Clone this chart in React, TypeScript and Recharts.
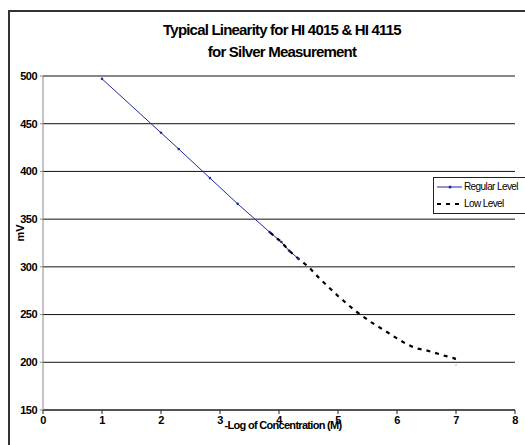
import { LineChart, Line, XAxis, YAxis, CartesianGrid } from "recharts";

// values
const regularX = [1, 2, 2.3, 2.83, 3.3, 3.84, 4.04, 4.17, 4.33];
const regularY = [497, 440.5, 423.5, 393, 366, 336.5, 326, 317, 308.5];

const lowX = [3.85, 4.04, 4.17, 4.33, 4.5, 4.7, 5.0, 5.28, 5.56, 5.85, 6.0, 6.15, 6.3, 6.5, 6.8, 6.98, 7.0];
const lowY = [336, 326, 317, 308.5, 300, 287, 269.5, 254.5, 242, 231, 225, 219.5, 215, 212.5, 207, 204, 197];

const xTicks = [0, 1, 2, 3, 4, 5, 6, 7, 8];
const yTicks = [150, 200, 250, 300, 350, 400, 450, 500];

const regularData = regularX.map((x, i) => ({ x, mv: regularY[i] }));
const lowData = lowX.map((x, i) => ({ x, mv: lowY[i] }));

const font = "'Liberation Sans', Arial, sans-serif";
const tickStyle = { fontSize: 11, fontWeight: 700, fill: "#000", fontFamily: font, letterSpacing: -0.5 };

function LegendBox() {
  return (
    <div
      style={{
        position: "absolute",
        left: 433,
        top: 177,
        width: 94,
        height: 37,
        border: "1px solid #222",
        background: "#fff",
        fontFamily: font,
        fontSize: 10,
        letterSpacing: -0.6,
        color: "#000",
        boxSizing: "border-box",
      }}
    >
      <div style={{ display: "flex", alignItems: "center", height: 17 }}>
        <svg width={30} height={10}>
          <line x1={3} y1={5} x2={28} y2={5} stroke="#1f2a9c" strokeWidth={1} />
          <circle cx={16} cy={5} r={1.5} fill="#1f2a9c" />
        </svg>
        <span>Regular Level</span>
      </div>
      <div style={{ display: "flex", alignItems: "center", height: 17 }}>
        <svg width={30} height={10}>
          <line x1={3} y1={5} x2={29} y2={5} stroke="#000" strokeWidth={2.2} strokeDasharray="4 5" />
        </svg>
        <span>Low Level</span>
      </div>
    </div>
  );
}

export default function App() {
  return (
    <div style={{ position: "absolute", left: 0, top: 0, width: 525, height: 445, overflow: "hidden", background: "#fff" }}>
      <div
        style={{
          position: "absolute",
          left: 8,
          top: 10,
          width: 540,
          height: 460,
          borderLeft: "2px solid #333",
          borderTop: "2px solid #333",
        }}
      />
      <div
        style={{
          position: "absolute",
          left: 0,
          top: 19,
          width: 564,
          textAlign: "center",
          fontFamily: font,
          fontWeight: 700,
          fontSize: 15,
          letterSpacing: -0.8,
          lineHeight: "22px",
          color: "#000",
        }}
      >
        Typical Linearity for HI 4015 &amp; HI 4115
        <br />
        for Silver Measurement
      </div>
      <LineChart width={525} height={445} margin={{ top: 76, right: 10, left: 0, bottom: 5 }} style={{ position: "absolute", left: 0, top: 0 }}>
        <CartesianGrid vertical={false} stroke="#111" strokeWidth={1} />
        <XAxis
          type="number"
          dataKey="x"
          domain={[0, 8]}
          ticks={xTicks}
          allowDuplicatedCategory={false}
          height={30}
          stroke="#222"
          tickSize={4}
          tickMargin={2}
          tick={tickStyle}
          interval={0}
        />
        <YAxis
          type="number"
          dataKey="mv"
          domain={[150, 500]}
          ticks={yTicks}
          width={43}
          stroke="#888"
          tickSize={3}
          tickMargin={3}
          tick={tickStyle}
          interval={0}
        />
        <Line
          data={regularData}
          dataKey="mv"
          name="Regular Level"
          stroke="#1f2a9c"
          strokeWidth={1}
          dot={{ r: 1.3, fill: "#1f2a9c", stroke: "none" }}
          isAnimationActive={false}
        />
        <Line
          data={lowData}
          dataKey="mv"
          name="Low Level"
          stroke="#000"
          strokeWidth={2.2}
          strokeDasharray="4 5"
          dot={false}
          isAnimationActive={false}
        />
      </LineChart>
      <LegendBox />
      <div
        style={{
          position: "absolute",
          left: 10,
          top: 225,
          width: 24,
          height: 16,
          transform: "rotate(-90deg)",
          fontFamily: font,
          fontWeight: 700,
          fontSize: 11,
          textAlign: "center",
          color: "#000",
        }}
      >
        mV
      </div>
      <div
        style={{
          position: "absolute",
          left: 183,
          top: 419,
          width: 200,
          textAlign: "center",
          fontFamily: font,
          fontWeight: 700,
          fontSize: 11,
          letterSpacing: -0.7,
          color: "#000",
        }}
      >
        -Log of Concentration (M)
      </div>
    </div>
  );
}
